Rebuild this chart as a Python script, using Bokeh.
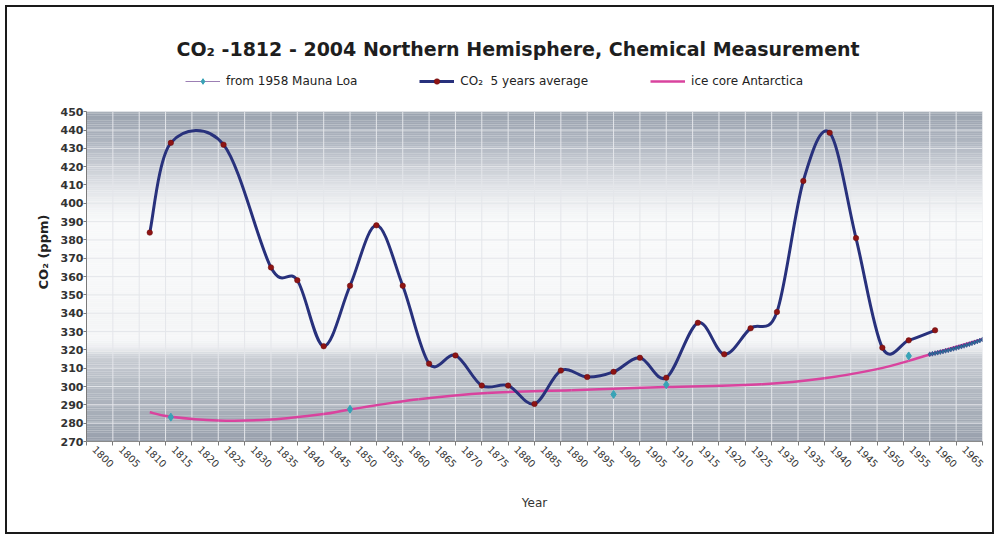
import math
from bokeh.plotting import figure
from bokeh.models import (ColumnDataSource, BoxAnnotation, Legend, LegendItem,
                          FixedTicker, Range1d)
from bokeh.embed import file_html
from bokeh.resources import INLINE

FONT = "DejaVu Sans"

# ---------------- data ----------------
x_tick_years = [1800, 1805, 1810, 1815, 1820, 1825, 1830, 1835, 1840, 1845,
                1850, 1855, 1860, 1865, 1870, 1875, 1880, 1885, 1890, 1895,
                1900, 1905, 1910, 1915, 1920, 1925, 1930, 1935, 1940, 1945,
                1950, 1955, 1960, 1965, 1970]
y_tick_ppm = [270, 280, 290, 300, 310, 320, 330, 340, 350, 360, 370, 380,
              390, 400, 410, 420, 430, 440, 450]

# CO2 5 years average (chemical measurements)
avg_years = [1812, 1816, 1826, 1835, 1840, 1845, 1850, 1855, 1860, 1865,
             1870, 1875, 1880, 1885, 1890, 1895, 1900, 1905, 1910, 1916,
             1921, 1926, 1931, 1936, 1941, 1946, 1951, 1956, 1961]
avg_ppm = [384, 433, 432, 365, 358, 322, 355, 388, 355, 312.5,
           317, 300.5, 300.5, 290.5, 308.7, 305.2, 308, 315.7, 304.8, 334.8,
           317.6, 331.8, 340.7, 412.2, 438.5, 381, 321.2, 325.2, 330.7]

# ice core Antarctica
ice_years = [1812, 1816, 1825, 1835, 1845, 1850, 1863, 1876, 1892, 1910,
             1928, 1940, 1950, 1956, 1960, 1970]
ice_ppm = [286, 283.5, 281.5, 282, 285, 287.5, 293, 296.5, 298, 299.7,
           301.2, 304.5, 309.5, 314, 317.5, 325.8]

# from 1958 Mauna Loa (isolated points and the dense recent run)
ml_years = [1816, 1850, 1900, 1910, 1956]
ml_ppm = [283.3, 287.6, 295.7, 301.0, 316.7]
ml_recent_years = [1960, 1960.5, 1961, 1961.5, 1962, 1962.5, 1963, 1963.5,
                   1964, 1964.5, 1965, 1965.5, 1966, 1966.5, 1967, 1967.5,
                   1968, 1968.5, 1969, 1969.5, 1970]
ml_recent_ppm = [317.6, 317.9, 318.2, 318.5, 318.8, 319.1, 319.5, 319.8,
                 320.2, 320.6, 321.0, 321.4, 321.8, 322.2, 322.7, 323.1,
                 323.6, 324.1, 324.6, 325.1, 325.7]

title_text = "CO\u2082 -1812 - 2004 Northern Hemisphere, Chemical Measurement"
legend_labels = ["from 1958 Mauna Loa", "CO\u2082  5 years average", "ice core Antarctica"]
x_label = "Year"
y_label = "CO\u2082 (ppm)"

# ---------------- style ----------------
NAVY = "#28317c"
DOT_RED = "#8e1414"
MAGENTA = "#d9439e"
CYAN = "#38a3b6"
LABEL_SHIFT = 1.5     # x labels sit a little right of their tick (years)
HEADROOM = 26.85      # white band above the plot area that holds the legend (ppm units)

bg_stops = [(270, "#98a0ac"), (285, "#a7aeb8"), (300, "#b4bac3"), (312, "#c2c7ce"),
            (317, "#cdd1d7"), (320, "#e8eaed"), (326, "#f6f7f8"), (335, "#f4f5f6"),
            (360, "#f7f8f9"), (390, "#f8f9fa"), (400, "#eef0f2"), (410, "#dde0e5"),
            (420, "#c9cdd4"), (430, "#b5bbc5"), (440, "#a6adb8"), (450, "#9aa2ae")]


def hex2rgb(h):
    return tuple(int(h[i:i + 2], 16) for i in (1, 3, 5))


def grad_color(v):
    for (a, ca), (b, cb) in zip(bg_stops[:-1], bg_stops[1:]):
        if a <= v <= b:
            t = (v - a) / (b - a)
            ra, rb = hex2rgb(ca), hex2rgb(cb)
            return "#%02x%02x%02x" % tuple(round(ra[k] + (rb[k] - ra[k]) * t) for k in range(3))
    return bg_stops[-1][1]


def smooth_source(xs, ys):
    n = len(xs)
    out = {k: [] for k in ("x0", "y0", "x1", "y1", "cx0", "cy0", "cx1", "cy1")}
    for i in range(n - 1):
        ip = max(i - 1, 0)
        inn = min(i + 2, n - 1)
        out["x0"].append(xs[i]); out["y0"].append(ys[i])
        out["x1"].append(xs[i + 1]); out["y1"].append(ys[i + 1])
        out["cx0"].append(xs[i] + (xs[i + 1] - xs[ip]) / 6)
        out["cy0"].append(ys[i] + (ys[i + 1] - ys[ip]) / 6)
        out["cx1"].append(xs[i + 1] - (xs[inn] - xs[i]) / 6)
        out["cy1"].append(ys[i + 1] - (ys[inn] - ys[i]) / 6)
    return ColumnDataSource(out)


y_lo, y_hi = y_tick_ppm[0], y_tick_ppm[-1]
x_lo, x_hi = x_tick_years[0], x_tick_years[-1]

W, H = 989, 529
p = figure(width=W, height=H,
           x_range=Range1d(x_lo, x_hi),
           y_range=Range1d(y_lo, y_hi + HEADROOM),
           output_backend="svg", toolbar_location=None, title=title_text,
           min_border_left=79, min_border_right=14, min_border_top=55,
           min_border_bottom=95)
p.styles = {"border": "2px solid #1a1a1a", "margin-left": "5px", "margin-top": "5px"}
p.background_fill_color = "white"
p.border_fill_color = "white"
p.outline_line_color = None

# background gradient strips (plot area only)
for lo in range(y_lo, y_hi):
    p.add_layout(BoxAnnotation(left=x_lo, right=x_hi, bottom=lo, top=lo + 1.05,
                               fill_color=grad_color(lo + 0.5), fill_alpha=1.0,
                               line_color=None, level="image"))

GRID = "#e4e6ea"
p.xgrid.visible = False
p.ygrid.visible = False
# grid limited to the shaded plot area
p.segment(x0=x_tick_years, y0=[y_lo] * len(x_tick_years),
          x1=x_tick_years, y1=[y_hi] * len(x_tick_years),
          line_color=GRID, line_width=1)
p.segment(x0=[x_lo] * len(y_tick_ppm), y0=y_tick_ppm,
          x1=[x_hi] * len(y_tick_ppm), y1=y_tick_ppm,
          line_color=GRID, line_width=1)

# title
p.title.text_font = FONT
p.title.text_font_size = "19px"
p.title.text_font_style = "bold"
p.title.text_color = "#1e1e1e"
p.title.align = "left"
p.title.offset = 90
p.title.standoff = 5

# axes
label_pos = [yr + LABEL_SHIFT for yr in x_tick_years]
p.xaxis.ticker = FixedTicker(ticks=label_pos, minor_ticks=x_tick_years)
p.xaxis.major_label_overrides = {pos: str(yr) for pos, yr in zip(label_pos, x_tick_years)}
p.xaxis.major_label_orientation = -math.pi / 4
p.xaxis.major_label_text_font = FONT
p.xaxis.major_label_text_font_size = "10px"
p.xaxis.major_label_text_color = "#333333"
p.xaxis.major_label_standoff = 2
p.xaxis.major_tick_out = 4
p.xaxis.major_tick_in = 0
p.xaxis.major_tick_line_color = None
p.xaxis.minor_tick_out = 4
p.xaxis.minor_tick_in = 0
p.xaxis.minor_tick_line_color = "#7a7a7a"
p.xaxis.axis_line_color = "#8a8a8a"
p.xaxis.axis_label = x_label
p.xaxis.axis_label_text_font = FONT
p.xaxis.axis_label_text_font_size = "12px"
p.xaxis.axis_label_text_font_style = "normal"
p.xaxis.axis_label_text_color = "#333333"
p.xaxis.axis_label_standoff = 22

p.yaxis.ticker = FixedTicker(ticks=y_tick_ppm)
p.yaxis.bounds = (y_lo, y_hi)
p.yaxis.major_label_text_font = FONT
p.yaxis.major_label_text_font_size = "11px"
p.yaxis.major_label_text_font_style = "bold"
p.yaxis.major_label_text_color = "#333333"
p.yaxis.major_label_standoff = 0
p.yaxis.major_tick_out = 3
p.yaxis.major_tick_in = 0
p.yaxis.minor_tick_line_color = None
p.yaxis.axis_line_color = "#7a7a7a"
p.yaxis.major_tick_line_color = "#7a7a7a"
p.yaxis.axis_label = y_label
p.yaxis.axis_label_text_font = FONT
p.yaxis.axis_label_text_font_size = "13px"
p.yaxis.axis_label_text_font_style = "bold"
p.yaxis.axis_label_text_color = "#222222"
p.yaxis.axis_label_standoff = 7

# series
r_ice = p.bezier(x0="x0", y0="y0", x1="x1", y1="y1", cx0="cx0", cy0="cy0",
                 cx1="cx1", cy1="cy1", source=smooth_source(ice_years, ice_ppm),
                 line_color=MAGENTA, line_width=2.5)

r_ml_line = p.line(ml_recent_years, ml_recent_ppm, line_color="#9c7fb4", line_width=1)
p.scatter(ml_recent_years, ml_recent_ppm, marker="diamond", size=5,
          fill_color="#2f6f9a", line_color="#27357e", line_width=0.5)
r_ml = p.scatter(ml_years, ml_ppm, marker="diamond", size=8,
                 fill_color=CYAN, line_color=CYAN)

r_avg = p.bezier(x0="x0", y0="y0", x1="x1", y1="y1", cx0="cx0", cy0="cy0",
                 cx1="cx1", cy1="cy1", source=smooth_source(avg_years, avg_ppm),
                 line_color=NAVY, line_width=3)
r_avg_pts = p.scatter(avg_years, avg_ppm, marker="circle", size=5.5,
                      fill_color=DOT_RED, line_color="#6a0c0c", line_width=0.5)

# legend row in the white band above the shaded area
legend = Legend(items=[LegendItem(label=legend_labels[0], renderers=[r_ml_line, r_ml]),
                       LegendItem(label=legend_labels[1], renderers=[r_avg, r_avg_pts]),
                       LegendItem(label=legend_labels[2], renderers=[r_ice])],
                location=(99, 353), orientation="horizontal",
                glyph_width=35, glyph_height=14, label_height=14, label_standoff=6,
                spacing=62, padding=0, margin=0, border_line_color=None,
                background_fill_alpha=0, label_text_font=FONT,
                label_text_font_size="12px", label_text_color="#222222")
p.add_layout(legend, "center")

open("out.html", "w").write(file_html(p, INLINE))
